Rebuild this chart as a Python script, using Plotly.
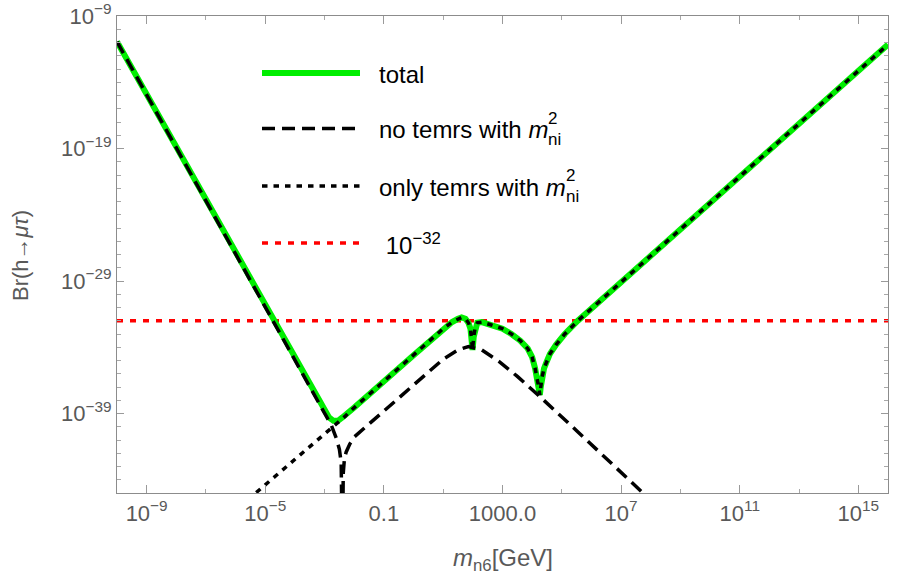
import plotly.graph_objects as go

# ---------------- data (log10 units) ----------------
# total
total_log_m = [-10, -3.2, -3.0, -2.85, -2.7, -2.55, -2.4, -2.2, -2.0, 0.0, 1.0, 1.3, 1.5, 1.62,
               1.75, 1.85, 1.92, 1.96, 1.99, 2.03, 2.08, 2.15, 2.3, 2.6, 3.0, 3.3, 3.6, 3.85,
               4.0, 4.1, 4.18, 4.23, 4.26, 4.29, 4.33, 4.4, 4.47, 4.6, 4.81, 5.1, 5.54, 16]
total_log_br = [-10.94, -38.1, -38.85, -39.3, -39.55, -39.55, -39.3, -38.95, -38.55, -34.6, -32.6,
                -32.1, -31.85, -31.75, -31.85, -32.15, -32.6, -33.3, -34.2, -33.2, -32.5, -32.15,
                -32.1, -32.3, -32.6, -33.0, -33.5, -34.1, -34.75, -35.6, -36.4, -37.1, -37.6,
                -37.0, -36.3, -35.6, -35.2, -34.5, -33.8, -33.0, -32.0, -11.15]

# no terms with m_ni^2 (dashed)
dash_log_m = [-10, -3.0, -2.77, -2.6, -2.5, -2.44, -2.40, -2.37, -2.33, -2.27, -2.15, -1.99,
              0.21, 1.0, 1.5, 1.85, 2.3, 2.9, 3.5, 4.2, 5.5, 7.67, 8.5]
dash_log_br = [-10.94, -38.94, -39.9, -40.9, -41.7, -42.7, -50.0, -43.5, -42.4, -41.9, -41.3, -40.75,
               -36.45, -34.9, -34.2, -33.95, -34.2, -35.1, -36.2, -37.6, -40.3, -44.87, -46.6]

# only terms with m_ni^2 (dotted)
dot_log_m = [-5.6, -2.94, -2.7, -2.5, -2.3, -2.2, -2.0, 0.0, 1.0, 1.3, 1.5, 1.62,
             1.75, 1.85, 1.92, 1.96, 1.99, 2.03, 2.08, 2.15, 2.3, 2.6, 3.0, 3.3, 3.6, 3.85,
             4.0, 4.1, 4.18, 4.23, 4.26, 4.29, 4.33, 4.4, 4.47, 4.6, 4.81, 5.1, 5.54, 16]
dot_log_br = [-45.53, -40.47, -40.0, -39.6, -39.2, -38.95, -38.55, -34.6, -32.6,
              -32.1, -31.85, -31.75, -31.85, -32.15, -32.6, -33.3, -34.2, -33.2, -32.5, -32.15,
              -32.1, -32.3, -32.6, -33.0, -33.5, -34.1, -34.75, -35.6, -36.4, -37.1, -37.6,
              -37.0, -36.3, -35.6, -35.2, -34.5, -33.8, -33.0, -32.0, -11.15]

# reference level 10^-32
ref_log_m = [-10, 16]
ref_log_br = [-32, -32]

x_tick_vals = [1e-9, 1e-5, 1e-1, 1e3, 1e7, 1e11, 1e15]
x_tick_text = ["10<sup>\u22129</sup>", "10<sup>\u22125</sup>", "0.1", "1000.0",
               "10<sup>7</sup>", "10<sup>11</sup>", "10<sup>15</sup>"]
x_minor_vals = [1e-7, 1e-3, 1e1, 1e5, 1e9, 1e13]
y_tick_vals = [1e-9, 1e-19, 1e-29, 1e-39]
y_tick_text = ["10<sup>\u22129</sup>", "10<sup>\u221219</sup>", "10<sup>\u221229</sup>",
               "10<sup>\u221239</sup>"]
y_minor_vals = [10.0 ** (-k) for k in range(10, 45) if k not in (19, 29, 39)]

# ---------------- figure ----------------
def p(v):
    return [10.0 ** a for a in v]

fig = go.Figure()
fig.add_trace(go.Scatter(x=p(ref_log_m), y=p(ref_log_br), mode="lines",
                         line=dict(color="#ff0000", width=3.5, dash="6px,7px")))
fig.add_trace(go.Scatter(x=p(total_log_m), y=p(total_log_br), mode="lines",
                         line=dict(color="#00ee00", width=6)))
fig.add_trace(go.Scatter(x=p(dash_log_m), y=p(dash_log_br), mode="lines",
                         line=dict(color="black", width=3.5, dash="13px,7px")))
fig.add_trace(go.Scatter(x=p(dot_log_m), y=p(dot_log_br), mode="lines",
                         line=dict(color="black", width=3.5, dash="5.5px,6px")))

L, R, T, B = 117, 888, 16, 493
W, H = R - L, B - T

def px(xp):
    return (xp - L) / W

def py(yp):
    return (B - yp) / H

axis_common = dict(type="log", showline=True, linecolor="#8c8c8c", linewidth=1.2,
                   mirror="allticks", ticks="inside", tickcolor="#9a9a9a", tickwidth=1,
                   showgrid=False, zeroline=False, automargin=False,
                   tickfont=dict(family="Liberation Sans, Arial", size=22, color="#595959"))

fig.update_xaxes(range=[-10, 16], tickmode="array", tickvals=x_tick_vals, ticktext=x_tick_text,
                 ticklen=8, minor=dict(tickvals=x_minor_vals, ticklen=4, ticks="inside",
                                        tickcolor="#a8a8a8", showgrid=False),
                 **axis_common)
fig.update_yaxes(range=[-45, -9], tickmode="array", tickvals=y_tick_vals, ticktext=y_tick_text,
                 ticklen=7, minor=dict(tickvals=y_minor_vals, ticklen=4, ticks="inside",
                                        tickcolor="#a8a8a8", showgrid=False),
                 **axis_common)

shapes = []
annos = []
leg_x0, leg_x1, txt_x = 262, 360, 377
font_leg = dict(family="Liberation Sans, Arial", size=24, color="black")
font_small = dict(family="Liberation Sans, Arial", size=17, color="black")
entries = [
    (73, dict(color="#00ee00", width=6), "total"),
    (128.5, dict(color="black", width=3.5, dash="13px,7px"), "no temrs with <i>m</i>"),
    (186, dict(color="black", width=3.5, dash="5.5px,6px"), "only temrs with <i>m</i>"),
    (243, dict(color="#ff0000", width=3.5, dash="6px,7px"), " 10<sup>\u221232</sup>"),
]
text_ends = [None, 546, 564, None]
for (yy, ln, txt), xe in zip(entries, text_ends):
    shapes.append(dict(type="line", xref="paper", yref="paper", x0=px(leg_x0), x1=px(leg_x1),
                       y0=py(yy), y1=py(yy), line=ln))
    annos.append(dict(xref="paper", yref="paper", x=px(txt_x), y=py(yy + 1), xanchor="left",
                      yanchor="middle", text=txt, showarrow=False, font=font_leg))
    if xe is not None:
        annos.append(dict(xref="paper", yref="paper", x=px(xe), y=py(yy - 10), xanchor="left",
                          yanchor="middle", text="2", showarrow=False, font=font_small))
        annos.append(dict(xref="paper", yref="paper", x=px(xe), y=py(yy + 11), xanchor="left",
                          yanchor="middle", text="ni", showarrow=False, font=font_small))

annos.append(dict(xref="paper", yref="paper", x=px(502.5), y=py(559), xanchor="center",
                  yanchor="middle", text="<i>m</i><sub>n6</sub>[GeV]", showarrow=False,
                  font=dict(family="Liberation Sans, Arial", size=24, color="#595959")))
annos.append(dict(xref="paper", yref="paper", x=px(20), y=py(256), xanchor="center",
                  yanchor="middle", text="Br(h\u2192<i>\u03bc\u03c4</i>)", textangle=-90,
                  showarrow=False,
                  font=dict(family="Liberation Sans, Arial", size=22, color="#595959")))

fig.update_layout(width=900, height=584, margin=dict(l=L, r=900 - R, t=T, b=584 - B),
                  plot_bgcolor="white", paper_bgcolor="white", showlegend=False,
                  shapes=shapes, annotations=annos)

fig.write_html("out.html")
